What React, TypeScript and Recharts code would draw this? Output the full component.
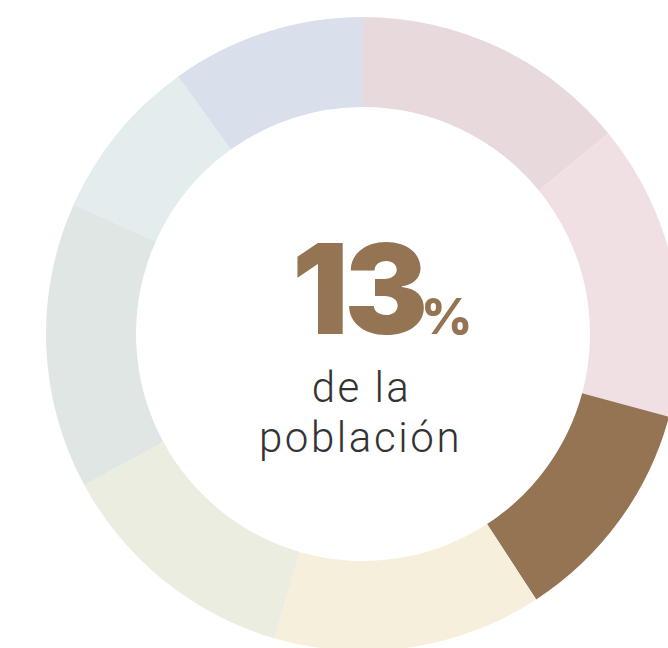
import React from 'react';
import { PieChart, Pie, Cell } from 'recharts';

const segments = ['s1', 's2', 's3', 's4', 's5', 's6', 's7', 's8'];
const shares = [14.1, 15.1, 11.6, 13.7, 12.6, 14.6, 8.4, 9.9];
const colors = ['#e8d9dd', '#f1e0e3', '#947452', '#f6efdb', '#eaeddf', '#e0e6e4', '#e3eded', '#dadfec'];

const data = segments.map((name, i) => ({ name, value: shares[i] }));

const W = 660;
const H = 640;

const App: React.FC = () => {
  return (
    <div style={{ position: 'fixed', left: 8, top: 8, width: W, height: H, background: '#fff' }}>
      <PieChart width={W} height={H} margin={{ top: 0, right: 0, bottom: 0, left: 0 }}>
        <Pie
          data={data}
          dataKey="value"
          cx={355}
          cy={326}
          innerRadius={227}
          outerRadius={317}
          startAngle={90}
          endAngle={-270}
          stroke="none"
          isAnimationActive={false}
        >
          {data.map((d, i) => (
            <Cell key={d.name} fill={colors[i]} />
          ))}
        </Pie>
      </PieChart>
      <svg width={W} height={H} style={{ position: 'absolute', left: 0, top: 0, pointerEvents: 'none' }}>
        <text x={284} y={326} fontFamily="Inter" fontWeight={900} fontSize={125} fill="#947452" letterSpacing={-4}>
          13
        </text>
        <text x={413} y={326} fontFamily="Inter" fontWeight={800} fontSize={50} fill="#947452">
          %
        </text>
        <text x={353.5} y={394} textAnchor="middle" fontFamily="Roboto" fontWeight={300} fontSize={42} fill="#333" letterSpacing={2.5}>
          de la
        </text>
        <text x={352.5} y={444} textAnchor="middle" fontFamily="Roboto" fontWeight={300} fontSize={42} fill="#333" letterSpacing={2.6}>
          población
        </text>
      </svg>
    </div>
  );
};

export default App;
